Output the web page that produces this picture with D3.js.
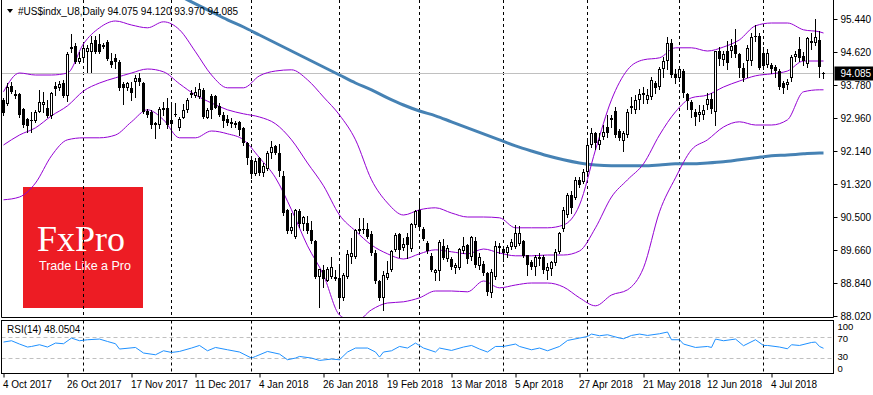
<!DOCTYPE html>
<html>
<head>
<meta charset="utf-8">
<script src="https://cdn.jsdelivr.net/npm/d3@7"></script>
<style>
  body { margin: 0; background: #fff; }
  svg text { font-family: "Liberation Sans", Arial, sans-serif; font-size: 10px; fill: #000; }
</style>
</head>
<body>
<div id="chart"></div>
<script>
// ---- data ----
const titleText = "#US$indx_U8,Daily  94.075 94.120 93.970 94.085";
const rsiTitle = "RSI(14) 48.0504";
const lastPrice = 94.085;

// daily OHLC, one entry per bar (bar 0 = 4 Oct 2017)
const openP = [
  93.41,93.31,93.76,93.56,93.56,93.18,92.94,92.89,92.89,93.12,
  93.29,93.21,93.02,93.77,93.71,93.83,93.52,94.68,94.77,94.37,
  94.46,94.62,94.62,94.92,94.81,94.79,94.87,94.39,94.47,94.37,
  93.81,93.72,93.72,93.87,93.96,93.85,93.15,93.11,92.79,92.79,
  93.17,93.21,92.91,93.07,92.71,92.97,93.17,93.58,93.52,93.50,
  93.67,92.97,93.52,93.52,93.27,93.04,92.94,92.87,92.83,92.86,
  92.71,92.35,91.92,91.56,91.96,91.58,91.68,92.08,92.27,92.08,
  91.52,90.67,90.15,89.98,90.65,90.32,90.33,90.17,89.88,89.00,
  89.17,88.90,89.00,88.98,88.96,88.46,89.00,89.48,89.48,90.15,
  90.20,90.18,90.07,89.60,88.88,88.46,88.96,89.17,89.67,90.07,
  89.71,90.00,89.68,90.29,90.67,90.20,89.85,89.52,89.08,89.15,
  89.77,89.44,89.43,89.22,89.22,89.65,89.80,89.48,89.90,89.26,
  89.32,89.10,88.60,89.00,89.72,89.70,89.60,89.75,89.75,89.82,
  89.88,89.53,89.37,89.23,89.45,89.50,89.15,89.18,89.35,89.62,
  90.18,90.54,91.04,90.97,91.42,91.37,91.62,92.29,92.58,92.30,
  92.50,92.75,92.92,93.14,92.63,92.38,92.54,93.27,93.17,93.42,
  93.60,93.42,93.50,93.83,93.75,94.20,94.38,94.83,94.07,93.96,
  94.14,93.57,93.37,93.12,93.04,93.04,93.29,93.44,93.12,94.63,
  94.42,94.63,94.64,94.79,94.56,94.21,94.38,94.38,95.00,95.02,
  94.58,94.29,94.30,94.25,94.13,93.83,93.79,93.96,94.48,94.69,
  94.52,94.31,94.85,94.83,94.92,94.075
];
const highP = [
  93.46,93.83,93.87,93.66,93.58,93.21,92.96,93.12,93.16,93.66,
  93.62,93.41,93.62,93.87,93.89,93.92,94.62,95.06,94.83,94.62,
  94.79,94.79,95.02,95.02,95.06,94.83,94.92,94.58,94.56,94.42,
  93.87,93.87,93.87,94.04,94.08,93.87,93.18,93.17,92.87,93.25,
  93.37,93.46,93.33,93.33,93.00,93.31,93.46,93.67,93.75,93.83,
  93.71,93.21,93.56,93.54,93.33,93.12,93.04,92.97,92.89,92.89,
  92.75,92.37,91.93,91.96,91.98,91.83,92.15,92.40,92.29,92.32,
  91.65,90.68,90.58,90.70,90.70,90.52,90.52,90.38,89.92,89.20,
  89.29,89.25,89.50,89.17,89.25,89.08,89.67,89.96,90.20,90.46,
  90.46,90.33,90.13,89.67,88.92,89.13,89.38,89.67,90.08,90.08,
  89.96,90.08,90.35,90.67,90.92,90.25,89.88,89.58,89.20,89.92,
  89.95,89.80,89.50,89.35,89.72,89.98,89.82,90.02,90.00,89.60,
  89.38,89.12,89.20,89.90,89.85,89.75,89.80,89.95,90.30,90.27,
  89.92,89.55,89.42,89.55,89.58,89.55,89.35,89.40,89.70,90.12,
  90.75,91.10,91.15,91.50,91.50,91.70,92.42,92.72,92.62,92.60,
  92.78,93.04,93.04,93.25,92.70,92.65,93.20,93.50,93.54,93.70,
  93.75,93.70,93.98,93.90,94.25,94.50,95.00,94.95,94.20,94.25,
  94.20,93.60,93.42,93.20,93.30,93.30,93.60,93.60,94.65,94.75,
  94.65,94.90,94.95,95.20,94.60,94.35,94.80,95.08,95.30,95.10,
  94.75,94.70,94.35,94.30,94.20,93.90,93.95,94.55,94.65,95.00,
  94.62,95.00,95.08,95.45,95.15,94.12
];
const lowP = [
  93.04,93.29,93.58,93.46,93.00,92.75,92.62,92.62,92.87,93.11,
  93.12,93.00,92.96,93.54,93.66,93.50,93.39,94.62,94.33,94.33,
  94.42,94.11,94.11,94.58,94.58,94.71,94.42,94.25,94.21,93.67,
  93.31,93.67,93.42,93.50,93.79,93.08,93.00,92.71,92.46,92.71,
  93.04,92.71,92.50,93.02,92.67,92.96,93.12,93.50,93.50,93.46,
  92.96,92.96,92.96,93.21,93.02,92.75,92.79,92.75,92.75,92.54,
  92.29,91.82,91.46,91.54,91.54,91.52,91.67,91.96,92.07,91.52,
  90.54,90.08,90.08,89.96,90.25,90.17,90.08,89.85,88.96,88.25,
  88.75,88.88,88.96,88.92,88.29,88.42,88.96,89.33,89.46,90.08,
  90.08,89.96,89.54,88.83,88.42,88.17,88.93,89.13,89.63,89.50,
  89.67,89.46,89.65,90.25,90.20,89.92,89.58,89.13,88.92,88.92,
  89.43,89.40,89.20,89.10,89.18,89.60,89.35,89.42,89.25,89.20,
  89.05,88.55,88.50,88.95,89.60,89.40,89.50,89.70,89.72,89.80,
  89.50,89.04,89.20,89.05,89.30,89.10,88.95,89.05,89.30,89.60,
  90.15,90.50,90.60,90.94,91.25,91.35,91.58,92.25,92.20,92.20,
  92.45,92.50,92.75,92.50,92.42,92.15,92.50,93.10,93.10,93.20,
  93.35,93.35,93.45,93.60,93.70,94.00,94.20,94.00,93.85,93.90,
  93.50,93.20,93.00,92.80,92.90,92.95,93.20,93.10,92.80,94.30,
  94.30,94.20,94.50,94.50,94.00,93.90,94.00,94.30,94.90,94.20,
  94.20,94.25,94.10,94.00,93.70,93.58,93.70,93.90,94.40,94.40,
  94.30,94.25,94.70,94.80,94.00,93.97
];
const closeP = [
  93.08,93.75,93.62,93.52,93.04,92.79,92.77,92.92,93.12,93.36,
  93.36,93.02,93.58,93.69,93.81,93.52,94.56,94.75,94.37,94.47,
  94.72,94.71,94.83,94.62,94.61,94.74,94.43,94.29,94.37,93.71,
  93.71,93.83,93.58,93.97,93.87,93.12,93.04,92.79,92.83,93.19,
  93.21,92.79,92.81,93.04,92.94,93.17,93.42,93.54,93.62,93.69,
  93.00,93.17,93.17,93.22,93.04,92.89,92.83,92.81,92.79,92.67,
  92.33,91.96,91.56,91.90,91.58,91.77,92.08,92.25,92.10,91.65,
  90.60,90.13,90.25,90.67,90.31,90.50,90.13,89.88,89.00,89.18,
  88.93,89.18,89.25,88.93,88.46,89.04,89.57,89.58,90.17,90.19,
  90.17,90.00,89.58,88.88,88.46,89.04,89.08,89.63,90.04,89.67,
  89.82,89.79,90.32,90.63,90.23,89.93,89.63,89.17,89.17,89.87,
  89.46,89.72,89.25,89.29,89.68,89.76,89.45,90.00,89.30,89.50,
  89.08,88.62,89.12,89.77,89.76,89.60,89.75,89.87,90.10,90.08,
  89.52,89.29,89.25,89.50,89.50,89.17,89.24,89.37,89.62,90.08,
  90.66,91.04,90.72,91.41,91.29,91.62,92.29,92.58,92.35,92.42,
  92.62,92.58,92.97,92.54,92.46,92.58,93.12,93.22,93.42,93.56,
  93.54,93.54,93.92,93.72,94.20,94.38,94.83,94.04,93.96,94.19,
  93.58,93.39,93.17,93.00,93.12,93.17,93.44,93.19,94.63,94.44,
  94.56,94.33,94.77,94.56,94.21,93.96,94.71,95.00,95.02,94.22,
  94.27,94.60,94.19,94.13,93.75,93.72,93.86,94.48,94.56,94.46,
  94.38,94.96,94.90,94.98,94.25,94.085
];

// Bollinger bands, read every 4th bar
const bandBars = [0,4,8,12,16,20,24,28,32,36,40,44,48,52,56,60,64,68,72,76,80,84,88,92,96,100,
  104,108,112,116,120,124,128,132,136,140,144,148,152,156,160,164,168,172,176,180,184,188,192,196,200,204,205];
const bandUpper = [93.62,94.09,94.04,94.04,94.09,94.82,95.22,95.39,95.29,95.22,95.37,95.17,94.62,94.04,
  93.72,93.72,94.02,94.14,94.17,93.92,93.49,93.04,92.42,91.42,90.84,90.54,90.67,90.72,90.59,90.49,90.49,
  90.47,90.22,90.22,90.22,90.29,90.79,92.17,93.42,94.17,94.42,94.47,94.72,94.72,94.64,94.74,94.92,95.27,
  95.34,95.34,95.17,95.12,95.09];
const bandMid = [92.29,92.54,92.72,93.02,93.27,93.64,93.84,93.97,94.09,94.19,94.12,93.82,93.54,93.34,
  93.17,93.07,92.99,92.82,92.42,91.84,91.27,90.54,90.14,89.79,89.57,89.44,89.57,89.67,89.62,89.57,89.69,
  89.59,89.52,89.52,89.54,89.54,89.64,90.22,90.99,91.42,91.82,92.54,93.12,93.47,93.54,93.74,93.89,94.02,
  94.07,94.14,94.39,94.39,94.39];
const bandLower = [90.92,90.99,91.34,92.02,92.42,92.47,92.47,92.54,92.87,93.17,92.92,92.47,92.47,92.64,
  92.57,92.42,91.97,91.47,90.67,89.77,89.04,88.04,87.87,88.17,88.34,88.37,88.47,88.64,88.64,88.62,88.89,
  88.72,88.79,88.84,88.84,88.74,88.47,88.27,88.54,88.67,89.22,90.62,91.47,92.17,92.42,92.74,92.87,92.79,
  92.79,92.92,93.62,93.67,93.67];

// long moving average (blue)
const maBars = [44,48,52,56,60,64,68,72,76,80,84,88,92,96,100,104,108,112,116,120,124,128,132,136,140,
  144,148,152,156,160,164,168,172,176,180,184,188,192,196,200,204,205];
const maVals = [96.02,95.82,95.62,95.42,95.24,95.04,94.84,94.64,94.44,94.24,94.04,93.84,93.67,93.47,
  93.29,93.14,93.02,92.87,92.72,92.57,92.42,92.27,92.14,92.02,91.92,91.84,91.79,91.77,91.77,91.77,91.79,
  91.82,91.82,91.84,91.87,91.92,91.97,92.02,92.04,92.07,92.09,92.09];

// RSI(14)
const rsiBars = [0,2,4,6,7,9,11,13,15,17,19,21,24,26,28,29,33,35,38,40,42,44,47,49,51,53,56,59,62,63,66,
  69,71,73,74,77,79,82,84,86,88,91,93,94,95,97,99,101,103,105,108,109,112,115,117,119,121,123,125,128,129,
  132,134,136,139,141,144,146,147,149,151,154,155,157,159,161,164,166,167,169,170,173,176,177,178,180,183,
  185,188,190,191,194,196,197,199,202,203,204,205];
const rsiVals = [59.9,62.4,56.1,50.4,51.5,54.8,50.4,58.0,56.7,67.5,62.4,64.3,65.6,61.0,56.7,46.6,49.6,39.0,
  35.7,43.3,40.1,42.0,48.5,53.4,43.3,49.6,45.2,40.9,29.4,32.5,42.0,37.0,26.2,29.4,32.5,29.4,24.9,27.5,26.2,
  40.9,48.5,48.5,40.9,31.3,40.9,43.3,51.5,48.5,58.0,48.5,40.9,48.5,43.9,50.4,53.4,46.6,40.9,51.5,51.5,56.1,
  51.5,45.2,48.5,43.3,51.5,63.0,67.5,70.6,75.1,71.9,73.8,67.5,66.2,72.5,75.1,72.5,75.7,79.0,64.3,64.3,56.1,
  49.6,51.5,49.6,65.6,62.4,65.6,52.9,64.3,53.4,53.4,50.4,47.1,54.8,53.4,59.1,59.9,51.5,48.05];

// axes
const priceTicks = [95.44, 94.62, 93.78, 92.96, 92.14, 91.32, 90.5, 89.66, 88.84, 88.02];
const rsiTicks = [100, 70, 30, 0];
const rsiLevels = [70, 30];
const dateBars = [0,16,32,48,64,80,96,112,128,144,160,176,192];
const dateLabels = ["4 Oct 2017","26 Oct 2017","17 Nov 2017","11 Dec 2017","4 Jan 2018","26 Jan 2018",
  "19 Feb 2018","13 Mar 2018","5 Apr 2018","27 Apr 2018","21 May 2018","12 Jun 2018","4 Jul 2018"];
// month separators (first bar of each month)
const sepBars = [20, 42, 62, 84, 104, 125, 146, 169, 190];

class CandleChart {
  constructor(_config) {
    this.config = {
      parentElement: _config.parentElement,
      containerWidth: _config.containerWidth || 873,
      containerHeight: _config.containerHeight || 395,
      left: 1.5,
      right: 833.5,
      mainTop: 0,
      mainBottom: 317.5,
      rsiTop: 320.5,
      rsiBottom: 373.5,
    };
    this.initVis();
  }

  initVis() {
    let vis = this;
    const c = vis.config;

    vis.svg = d3.select(c.parentElement).append("svg")
      .attr("width", c.containerWidth)
      .attr("height", c.containerHeight);

    vis.xScale = d3.scaleLinear().domain([0, 205]).range([3.5, 823.5]);
    vis.yScale = d3.scaleLinear().domain([87.965, 95.815]).range([318, 4]);
    vis.rsiScale = d3.scaleLinear().domain([0, 100]).range([373.5, 321]);

    const defs = vis.svg.append("defs");
    defs.append("clipPath").attr("id", "clip-main").append("rect")
      .attr("x", c.left).attr("y", 0).attr("width", c.right - c.left).attr("height", c.mainBottom);
    defs.append("clipPath").attr("id", "clip-rsi").append("rect")
      .attr("x", c.left).attr("y", c.rsiTop).attr("width", c.right - c.left).attr("height", c.rsiBottom - c.rsiTop);

    vis.main = vis.svg.append("g").attr("clip-path", "url(#clip-main)");
    vis.rsi = vis.svg.append("g").attr("clip-path", "url(#clip-rsi)");
  }

  renderVis() {
    let vis = this;
    const c = vis.config;
    const x = vis.xScale, y = vis.yScale;
    const py = v => Math.round(y(v));

    // logo
    const logo = vis.main.append("g");
    logo.append("rect").attr("x", 23).attr("y", 187).attr("width", 120).attr("height", 121)
      .attr("fill", "#ed1c24");
    logo.append("text").attr("x", 37).attr("y", 251)
      .style("font-family", "'Liberation Serif', 'Times New Roman', serif")
      .style("font-size", "36px").style("fill", "#fff").text("FxPro");
    logo.append("text").attr("x", 39).attr("y", 270)
      .style("font-size", "12.5px").style("fill", "#fff").text("Trade Like a Pro");

    // month separators
    [[vis.main, c.mainTop, c.mainBottom], [vis.rsi, c.rsiTop, c.rsiBottom]].forEach(([g, t, b]) => {
      g.selectAll(null).data(sepBars).join("line")
        .attr("x1", d => x(d)).attr("x2", d => x(d))
        .attr("y1", t).attr("y2", b)
        .attr("stroke", "#000").attr("stroke-dasharray", "3,3");
    });

    // last price line
    vis.main.append("line")
      .attr("x1", c.left).attr("x2", c.right)
      .attr("y1", py(lastPrice) + 0.5).attr("y2", py(lastPrice) + 0.5)
      .attr("stroke", "#c0c0c0");

    // moving average
    const maLine = d3.line().x((d, i) => x(maBars[i])).y(d => y(d)).curve(d3.curveMonotoneX);
    vis.main.append("path").datum(maVals).attr("d", maLine)
      .attr("fill", "none").attr("stroke", "#4682b4").attr("stroke-width", 3);

    // bollinger bands
    const bandLine = d3.line().x((d, i) => x(bandBars[i])).y(d => y(d)).curve(d3.curveMonotoneX);
    [bandUpper, bandMid, bandLower].forEach(arr => {
      vis.main.append("path").datum(arr).attr("d", bandLine)
        .attr("fill", "none").attr("stroke", "#9400d3").attr("stroke-width", 1);
    });

    // candles
    const bars = d3.range(openP.length);
    vis.main.selectAll(".wick").data(bars).join("line")
      .attr("class", "wick")
      .attr("x1", i => x(i)).attr("x2", i => x(i))
      .attr("y1", i => py(highP[i])).attr("y2", i => py(lowP[i]) + 1)
      .attr("stroke", "#000");

    vis.main.selectAll(".body").data(bars).join("rect")
      .attr("class", "body")
      .each(function (i) {
        const top = py(Math.max(openP[i], closeP[i]));
        const bot = py(Math.min(openP[i], closeP[i]));
        const h = bot - top;
        const r = d3.select(this);
        if (closeP[i] < openP[i] || h < 2) {
          r.attr("x", x(i) - 1.5).attr("y", top).attr("width", 3).attr("height", Math.max(h, 1))
            .attr("fill", "#000");
        } else {
          r.attr("x", x(i) - 1).attr("y", top + 0.5).attr("width", 2).attr("height", h - 1)
            .attr("fill", "#fff").attr("stroke", "#000");
        }
      });

    // RSI levels and line
    vis.rsi.selectAll(null).data(rsiLevels).join("line")
      .attr("x1", c.left).attr("x2", c.right)
      .attr("y1", d => Math.round(vis.rsiScale(d)) + 0.5).attr("y2", d => Math.round(vis.rsiScale(d)) + 0.5)
      .attr("stroke", "#c0c0c0").attr("stroke-dasharray", "4,3");
    const rsiLine = d3.line().x((d, i) => x(rsiBars[i])).y(d => vis.rsiScale(d));
    vis.rsi.append("path").datum(rsiVals).attr("d", rsiLine)
      .attr("fill", "none").attr("stroke", "#1e90ff").attr("stroke-width", 1);

    // frames
    vis.svg.append("path")
      .attr("d", `M${c.left},0V${c.mainBottom}H${c.right}V0`)
      .attr("fill", "none").attr("stroke", "#000");
    vis.svg.append("rect")
      .attr("x", c.left).attr("y", c.rsiTop)
      .attr("width", c.right - c.left).attr("height", c.rsiBottom - c.rsiTop)
      .attr("fill", "none").attr("stroke", "#000");

    // price axis
    const yAxis = vis.svg.append("g").attr("transform", `translate(${c.right},0)`)
      .call(d3.axisRight(y).tickValues(priceTicks).tickSize(4).tickPadding(3)
        .tickFormat(d3.format(".3f")));
    yAxis.select(".domain").remove();
    yAxis.selectAll("text").attr("font-family", null).attr("font-size", null);
    yAxis.selectAll(".tick").attr("transform", d => `translate(0,${py(d) + 0.5})`);

    // current price marker
    const ly = py(lastPrice) + 0.5;
    vis.svg.append("rect").attr("x", c.right + 1).attr("y", ly - 7).attr("width", 40).attr("height", 14)
      .attr("fill", "#000");
    vis.svg.append("text").attr("x", c.right + 7).attr("y", ly).attr("dy", "0.35em")
      .style("fill", "#fff").text(d3.format(".3f")(lastPrice));

    // RSI scale labels (MT4 keeps the end labels inside the panel)
    const rsiLabelY = { 100: 327, 70: 339, 30: 357, 0: 368.5 };
    vis.svg.selectAll(".rsi-label").data(rsiTicks).join("text")
      .attr("class", "rsi-label")
      .attr("x", c.right + 4)
      .attr("y", d => rsiLabelY[d])
      .attr("dy", "0.35em")
      .style("font-size", "9.5px")
      .text(d => d);

    // date axis
    const xAxis = vis.svg.append("g").attr("transform", `translate(0,${c.rsiBottom})`)
      .call(d3.axisBottom(x).tickValues(dateBars).tickSize(4).tickPadding(3)
        .tickFormat((d, i) => dateLabels[i]));
    xAxis.select(".domain").remove();
    xAxis.selectAll("text").attr("text-anchor", "start").attr("x", -1)
      .attr("font-family", null).attr("font-size", null);

    // titles
    vis.svg.append("path").attr("d", "M7,9L13,9L10,13Z").attr("fill", "#000");
    vis.svg.append("text").attr("x", 18).attr("y", 15).text(titleText);
    vis.svg.append("text").attr("x", 7).attr("y", 333).text(rsiTitle);
  }
}

const chart = new CandleChart({ parentElement: "#chart" });
chart.renderVis();
</script>
</body>
</html>
